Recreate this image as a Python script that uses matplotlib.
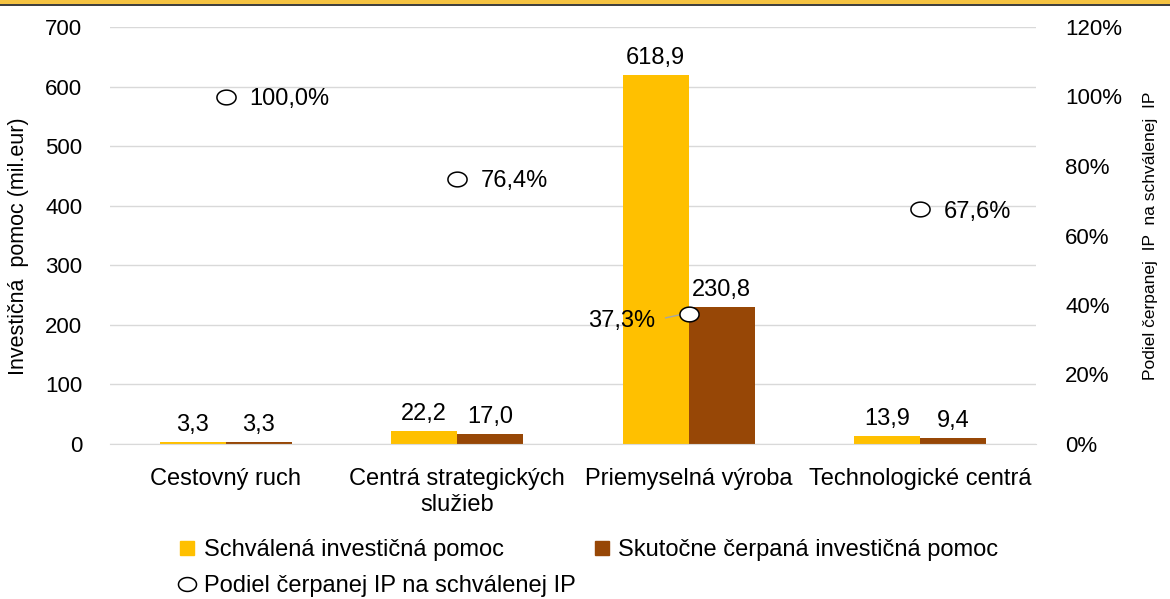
import matplotlib
matplotlib.use("Agg")
import matplotlib.pyplot as plt
import numpy as np
from matplotlib.path import Path
from matplotlib.lines import Line2D
from matplotlib.patches import Rectangle

# data
categories = ["Cestovný ruch", "Centrá strategických\nslužieb",
              "Priemyselná výroba", "Technologické centrá"]
approved = [3.3, 22.2, 618.9, 13.9]
drawn = [3.3, 17.0, 230.8, 9.4]
share = [100.0, 76.4, 37.3, 67.6]

left_ticks = [0, 100, 200, 300, 400, 500, 600, 700]
right_ticks = [0, 20, 40, 60, 80, 100, 120]

YELLOW = "#ffc000"
BROWN = "#974706"
GRID = "#d9d9d9"

plt.rcParams["font.family"] = ["Liberation Sans", "DejaVu Sans"]
FS = 17      # category labels, data labels, legend
FS_TICK = 16

fig = plt.figure(figsize=(11.7, 5.99), dpi=100)
ax = fig.add_axes([110 / 1170, 155 / 599, 926 / 1170, 417 / 599])
ax2 = ax.twinx()

x = np.arange(len(categories))
w = 0.285
ax.bar(x - w / 2, approved, w, color=YELLOW, zorder=2)
ax.bar(x + w / 2, drawn, w, color=BROWN, zorder=2)

for xi, v in zip(x, approved):
    ax.text(xi - w / 2, v + 10, f"{v:.1f}".replace(".", ","), ha="center",
            va="bottom", fontsize=FS)
for xi, v in zip(x, drawn):
    ax.text(xi + w / 2, v + 10, f"{v:.1f}".replace(".", ","), ha="center",
            va="bottom", fontsize=FS)

ax.set_xlim(-0.5, 3.5)
ax.set_ylim(0, 700)
ax.set_yticks(left_ticks)
ax.set_yticklabels([str(t) for t in left_ticks], fontsize=FS_TICK)
ax.set_xticks(x)
ax.set_xticklabels(categories, fontsize=FS, linespacing=1.25)
ax.tick_params(axis="x", length=0, pad=17)
ax.tick_params(axis="y", length=0, pad=20)
ax.grid(axis="y", color=GRID, linewidth=1, zorder=0)
ax.set_axisbelow(True)
for s in ["top", "right", "left"]:
    ax.spines[s].set_visible(False)
ax.spines["bottom"].set_color(GRID)
ax.set_ylabel("Investičná  pomoc (mil.eur)", fontsize=15.5)
ax.yaxis.set_label_coords(-0.087, 0.475)

# ellipse marker
t = np.linspace(0, 2 * np.pi, 60)
ell = Path(np.column_stack([1.3 * np.cos(t), np.sin(t)]), closed=True)

ax2.set_ylim(0, 120)
ax2.set_yticks(right_ticks)
ax2.set_yticklabels([f"{t}%" for t in right_ticks], fontsize=FS_TICK)
ax2.tick_params(length=0, pad=21)
for s in ax2.spines.values():
    s.set_visible(False)
ax2.scatter(x, share, marker=ell, s=190, facecolor="white", edgecolor="black",
            linewidth=1.1, zorder=5)
ax2.set_ylabel("Podiel čerpanej  IP  na schválenej  IP", fontsize=12.5, labelpad=15)

for xi, v in zip(x, share):
    lab = f"{v:.1f}".replace(".", ",") + "%"
    if v < 50:
        ax2.plot([xi - 0.1, xi - 0.03], [v - 1.0, v], color="#a6a6a6", lw=1, zorder=4)
        ax2.text(xi - 0.145, v - 1.8, lab, ha="right", va="center", fontsize=FS)
    else:
        ax2.text(xi + 0.1, v - 0.8, lab, ha="left", va="center", fontsize=FS)

# legend: row with the bars, then a row with the share marker
bar_handles = [
    Line2D([], [], marker="s", linestyle="none", markersize=10,
           markerfacecolor=YELLOW, markeredgecolor=YELLOW),
    Line2D([], [], marker="s", linestyle="none", markersize=10,
           markerfacecolor=BROWN, markeredgecolor=BROWN),
]
bar_labels = ["Schválená investičná pomoc", "Skutočne čerpaná investičná pomoc"]
share_handle = Line2D([], [], marker=ell, linestyle="none", markersize=13,
                      markerfacecolor="white", markeredgecolor="black",
                      markeredgewidth=1.1)

leg_kw = dict(frameon=False, fontsize=FS, handlelength=0.8, handletextpad=0.3,
              borderpad=0, borderaxespad=0)
fig.legend(bar_handles, bar_labels, loc="center left",
           bbox_to_anchor=(178 / 1170, 1 - 550 / 599), ncol=2,
           columnspacing=3.75, **leg_kw)
fig.legend([share_handle], ["Podiel čerpanej IP na schválenej IP"], loc="center left",
           bbox_to_anchor=(178 / 1170, 1 - 586 / 599), **leg_kw)

# top border strip
fig.patches.append(Rectangle((0, 1 - 4 / 599), 1, 4 / 599, transform=fig.transFigure,
                             facecolor="#f5c342", edgecolor="none", zorder=10))
fig.patches.append(Rectangle((0, 1 - 6 / 599), 1, 2 / 599, transform=fig.transFigure,
                             facecolor="#404040", edgecolor="none", zorder=10))

fig.savefig("out.png", dpi=100)
